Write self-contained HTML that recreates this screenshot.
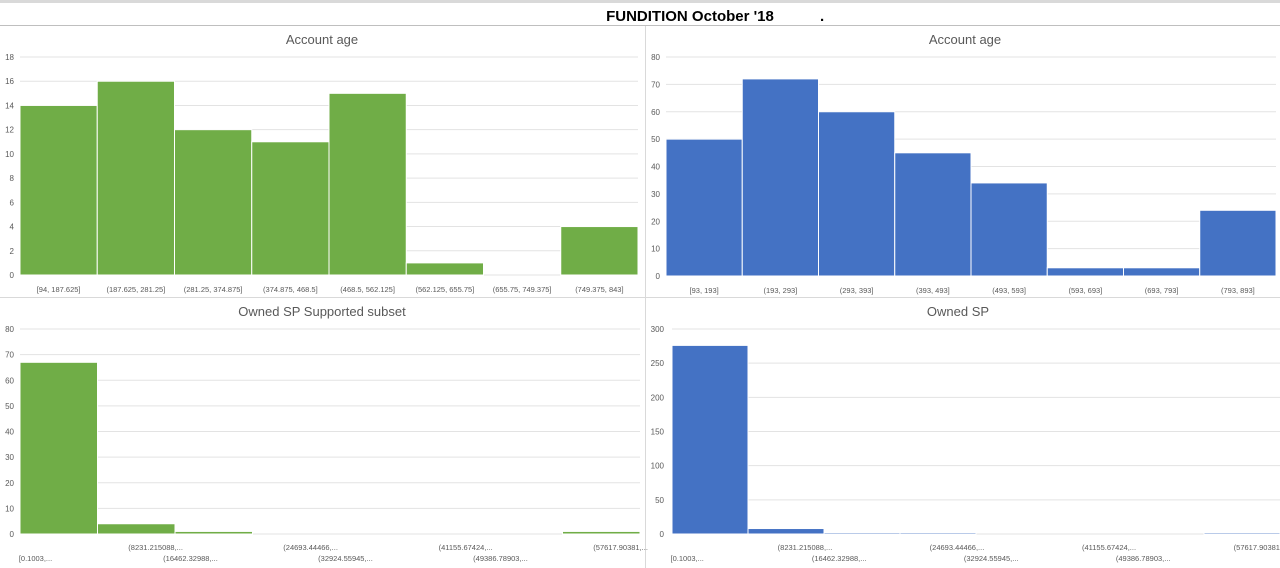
<!DOCTYPE html>
<html><head><meta charset="utf-8"><style>
html,body{margin:0;padding:0;background:#fff;}
svg{display:block;font-family:"Liberation Sans",sans-serif;}
</style></head><body>
<svg id="s" width="1280" height="568" viewBox="0 0 1280 568">
<rect x="0" y="0" width="1280" height="3" fill="#d9d9d9"/>
<line x1="0" y1="25.5" x2="1280" y2="25.5" stroke="#bfbfbf"/>
<text x="690" y="21" text-anchor="middle" font-size="15" font-weight="bold" fill="#000">FUNDITION October '18</text>
<text x="820" y="21" font-size="15" font-weight="bold" fill="#000">.</text>
<line x1="645.5" y1="26" x2="645.5" y2="568" stroke="#d9d9d9"/>
<line x1="0" y1="297.5" x2="1280" y2="297.5" stroke="#d9d9d9"/>
</svg>
<script>
const c1Cats=["[94, 187.625]","(187.625, 281.25]","(281.25, 374.875]","(374.875, 468.5]","(468.5, 562.125]","(562.125, 655.75]","(655.75, 749.375]","(749.375, 843]"];
const c1Vals=[14,16,12,11,15,1,0,4];
const c1Ticks=[0,2,4,6,8,10,12,14,16,18];
const c2Cats=["[93, 193]","(193, 293]","(293, 393]","(393, 493]","(493, 593]","(593, 693]","(693, 793]","(793, 893]"];
const c2Vals=[50,72,60,45,34,3,3,24];
const c2Ticks=[0,10,20,30,40,50,60,70,80];
const c3Cats=["[0.1003,...","(8231.215088,...","(16462.32988,...","(24693.44466,...","(32924.55945,...","(41155.67424,...","(49386.78903,...","(57617.90381,..."];
const c3Vals=[67,4,1,0,0,0,0,1];
const c3Ticks=[0,10,20,30,40,50,60,70,80];
const c4Cats=["[0.1003,...","(8231.215088,...","(16462.32988,...","(24693.44466,...","(32924.55945,...","(41155.67424,...","(49386.78903,...","(57617.90381,..."];
const c4Vals=[276,8,2,2,0,0,0,2];
const c4Ticks=[0,50,100,150,200,250,300];

const NS="http://www.w3.org/2000/svg";
const svg=document.getElementById('s');
function mk(tag,attrs,parent){const e=document.createElementNS(NS,tag);for(const k in attrs)e.setAttribute(k,attrs[k]);(parent||svg).appendChild(e);return e;}
function chart(name,title,tx,ty,x0,x1,yTop,yBot,ticks,cats,vals,color,stagger,tickX){
  const g=mk('g',{});
  
  
  const max=ticks[ticks.length-1];
  const ys=v=>yBot-(v/max)*(yBot-yTop);
  const t=mk('text',{x:tx,y:ty,'text-anchor':'middle','font-size':13,fill:'#595959'},g);
  t.textContent=title;
  
  
  ticks.forEach(v=>{
    mk('line',{x1:x0,x2:x1,y1:ys(v),y2:ys(v),stroke:'#e3e3e3','stroke-width':1},g);
    const l=mk('text',{x:tickX,y:ys(v)+3,'text-anchor':'end','font-size':8,fill:'#595959'},g);
    l.textContent=v;
    
    
  });
  const bw=(x1-x0)/cats.length;
  cats.forEach((c,i)=>{
    const h=yBot-ys(vals[i]);
    const r=mk('rect',{x:x0+i*bw,y:ys(vals[i]),width:bw,height:h,fill:color,stroke:'#fff','stroke-width':1},g);
    
    
    const ly=stagger?(i%2===0?yBot+27:yBot+16):yBot+17;
    const lx=stagger?x0+i*bw+bw/2+(i%2===0?-bw*0.3:bw*0.25):x0+i*bw+bw/2;
    const l=mk('text',{x:lx,y:ly,'text-anchor':'middle','font-size':7.5,fill:'#595959'},g);
    l.textContent=c;
    
    
  });
}
chart('account-age-chart-left','Account age',322,44,20,638,57,275,c1Ticks,c1Cats,c1Vals,'#70ad47',false,14);
chart('account-age-chart-right','Account age',965,44,666,1276,57,276,c2Ticks,c2Cats,c2Vals,'#4472c4',false,660);
chart('owned-sp-supported-chart','Owned SP Supported subset',322,316,20,640,329,534,c3Ticks,c3Cats,c3Vals,'#70ad47',true,14);
chart('owned-sp-chart','Owned SP',958,316,672,1280,329,534,c4Ticks,c4Cats,c4Vals,'#4472c4',true,664);
</script>
</body></html>
